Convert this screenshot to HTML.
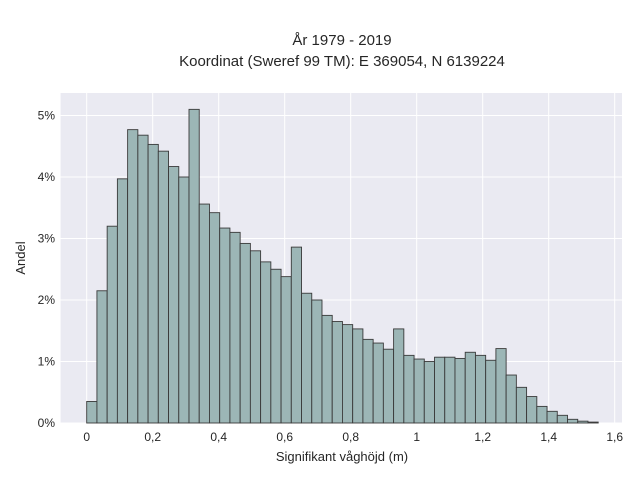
<!DOCTYPE html>
<html><head><meta charset="utf-8">
<style>
body{margin:0;background:#fff;}
svg{display:block;font-family:"Liberation Sans",sans-serif;}
</style></head>
<body>
<svg id="chart" width="640" height="480">
<text x="342" y="45" text-anchor="middle" font-size="15" fill="#262626">År 1979 - 2019</text>
<text x="342" y="66" text-anchor="middle" font-size="15" fill="#262626">Koordinat (Sweref 99 TM): E 369054, N 6139224</text>
<rect x="60.6" y="93" width="561.4" height="330" fill="#eaeaf2"/>
<g id="grid"></g><g id="bars"></g><g id="ticks"></g>
<text x="342" y="461" text-anchor="middle" font-size="13" fill="#262626">Signifikant våghöjd (m)</text>
<text x="25" y="258" text-anchor="middle" font-size="13" fill="#262626" transform="rotate(-90 25 258)">Andel</text>
</svg>
<script>
const binWidth = 0.031;
const shares = [0.35,2.15,3.2,3.97,4.77,4.68,4.53,4.42,4.17,4.0,5.1,3.56,3.42,3.17,3.1,2.92,2.8,2.62,2.5,2.38,2.86,2.11,2.0,1.75,1.65,1.6,1.53,1.36,1.3,1.2,1.53,1.1,1.04,1.0,1.07,1.07,1.05,1.15,1.1,1.02,1.21,0.78,0.58,0.43,0.27,0.19,0.125,0.06,0.03,0.015];
const xTicks = [0,0.2,0.4,0.6,0.8,1,1.2,1.4,1.6];
const xTickLabels = ["0","0,2","0,4","0,6","0,8","1","1,2","1,4","1,6"];
const yTicks = [0,1,2,3,4,5];
const yTickLabels = ["0%","1%","2%","3%","4%","5%"];
const NS="http://www.w3.org/2000/svg";
const X0=86.7, XS=330, Y0=423, YS=61.5;
const xs=v=>X0+v*XS, ys=v=>Y0-v*YS;
const grid=document.getElementById('grid'), bars=document.getElementById('bars'), ticks=document.getElementById('ticks');
function mk(tag,attrs){const e=document.createElementNS(NS,tag);for(const k in attrs)e.setAttribute(k,attrs[k]);return e;}
xTicks.forEach((t,i)=>{
  const l=mk('line',{x1:xs(t),x2:xs(t),y1:93,y2:423,stroke:'#fff','stroke-width':1});
  
  
  grid.appendChild(l);
  const tx=mk('text',{x:xs(t),y:441,'text-anchor':'middle','font-size':12,fill:'#262626'});
  tx.textContent=xTickLabels[i];
  
  
  ticks.appendChild(tx);
});
yTicks.forEach((t,i)=>{
  const l=mk('line',{x1:60.6,x2:622,y1:ys(t),y2:ys(t),stroke:'#fff','stroke-width':1});
  
  
  grid.appendChild(l);
  const tx=mk('text',{x:55,y:ys(t)+4,'text-anchor':'end','font-size':12,fill:'#262626'});
  tx.textContent=yTickLabels[i];
  
  
  ticks.appendChild(tx);
});
shares.forEach((v,i)=>{
  const x=xs(i*binWidth), w=xs((i+1)*binWidth)-x;
  const r=mk('rect',{x:x,y:ys(v),width:w,height:Y0-ys(v),fill:'#9cb6b6',stroke:'#3a3a3a','stroke-width':0.9});
  
  
  bars.appendChild(r);
});
</script>
</body></html>
